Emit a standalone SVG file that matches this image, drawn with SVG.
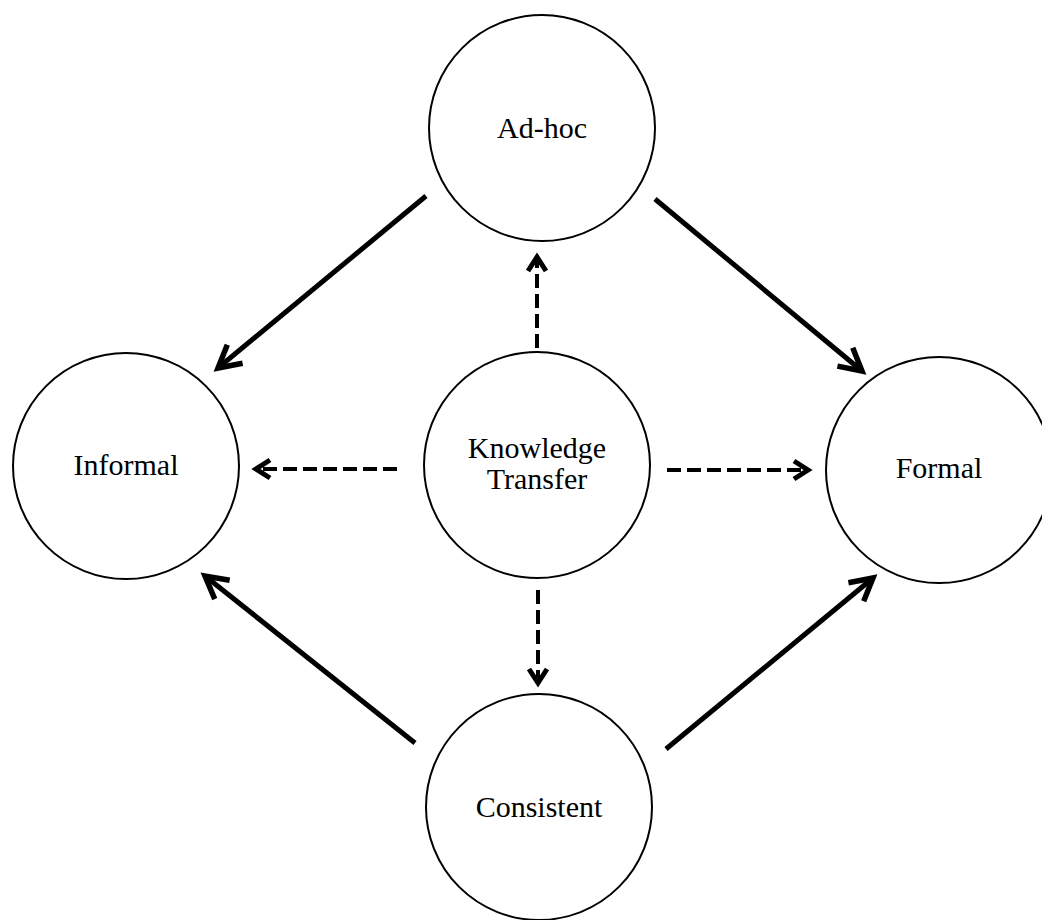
<svg xmlns="http://www.w3.org/2000/svg" width="1042" height="920" viewBox="0 0 1042 920">
  <style>
    .node circle { fill: #ffffff; stroke: #000000; stroke-width: 2; }
    .node text { font-family: "Liberation Serif", "Times New Roman", serif; font-size: 30px; fill: #000000; text-anchor: middle; }
    .solid { stroke: #000000; stroke-width: 5; fill: none; marker-end: url(#bigHead); }
    .dashed { stroke: #000000; stroke-width: 4; fill: none; stroke-dasharray: 14 6; marker-end: url(#smallHead); }
  </style>
  <defs>
    <marker id="bigHead" markerUnits="userSpaceOnUse" orient="auto" overflow="visible" markerWidth="40" markerHeight="40" refX="0" refY="0">
      <path d="M -22 -12 L 0 0 L -22 12" fill="none" stroke="#000000" stroke-width="5.5" stroke-dasharray="none" stroke-linejoin="miter" stroke-linecap="butt"/>
    </marker>
    <marker id="smallHead" markerUnits="userSpaceOnUse" orient="auto" overflow="visible" markerWidth="30" markerHeight="30" refX="0" refY="0">
      <path d="M -14 -9 L 0 0 L -14 9" fill="none" stroke="#000000" stroke-width="5" stroke-dasharray="none" stroke-linejoin="miter" stroke-linecap="butt"/>
    </marker>
  </defs>
  <rect width="1042" height="920" fill="#ffffff"/>

  <g id="connectors">
    <line class="solid" x1="426" y1="196" x2="218" y2="368"/>
    <line class="solid" x1="655" y1="199" x2="862" y2="371"/>
    <line class="solid" x1="415" y1="743" x2="205" y2="576"/>
    <line class="solid" x1="666" y1="749" x2="873" y2="578"/>
    <line class="dashed" x1="537" y1="348" x2="537" y2="257"/>
    <line class="dashed" x1="397" y1="469" x2="256" y2="469"/>
    <line class="dashed" x1="667" y1="470" x2="808" y2="470"/>
    <line class="dashed" x1="538" y1="590" x2="538" y2="683"/>
  </g>

  <g id="node-adhoc" class="node">
    <circle cx="542" cy="128" r="113"/>
    <text x="542" y="138">Ad-hoc</text>
  </g>
  <g id="node-informal" class="node">
    <circle cx="126" cy="466" r="113"/>
    <text x="126" y="475">Informal</text>
  </g>
  <g id="node-kt" class="node">
    <circle cx="537" cy="465" r="113"/>
    <text x="537" y="458">Knowledge</text>
    <text x="537" y="489">Transfer</text>
  </g>
  <g id="node-formal" class="node">
    <circle cx="939" cy="470" r="113"/>
    <text x="939" y="478">Formal</text>
  </g>
  <g id="node-consistent" class="node">
    <circle cx="539" cy="807" r="113"/>
    <text x="539" y="817">Consistent</text>
  </g>
</svg>
